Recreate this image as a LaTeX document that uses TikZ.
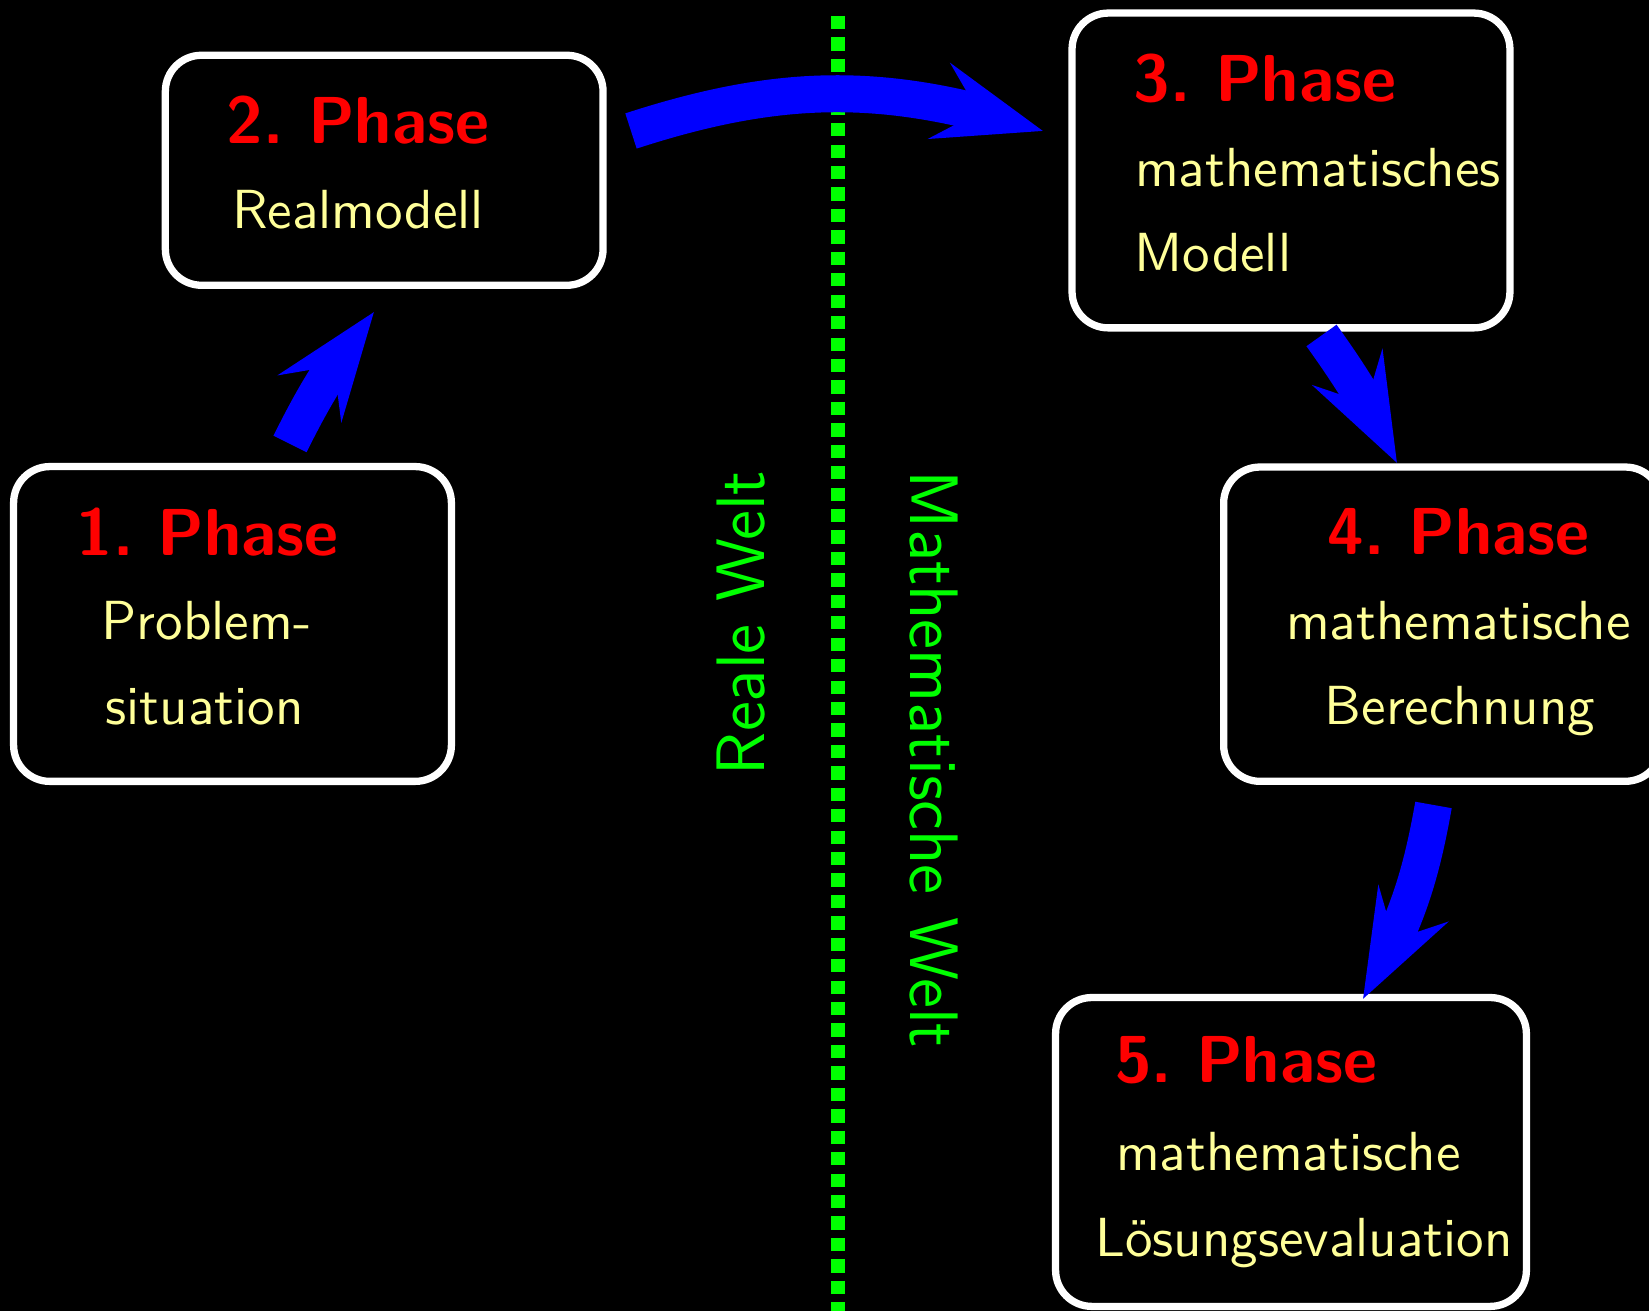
\documentclass[tikz,border=0pt]{standalone}
\usetikzlibrary{arrows.meta,bending}
\definecolor{yel}{RGB}{255,255,153}
\begin{document}
\begin{tikzpicture}[x=0.1852pt,y=0.1852pt,
  box/.style={draw=white, line width=1.35pt, rounded corners=6.7pt, fill=black, inner sep=0pt},
  ttl/.style={text=red, font=\fontsize{12.3}{14}\selectfont\sffamily\bfseries, inner sep=0pt, anchor=base},
  txt/.style={text=yel, font=\fontsize{10.2}{12}\selectfont\sffamily, inner sep=0pt, anchor=base},
  wld/.style={text=green, font=\fontsize{12.7}{14}\selectfont\sffamily, inner sep=0pt, anchor=base},
  flow/.style={draw=blue, line width=6.85pt, -{Stealth[length=19.8pt,width=14.4pt,inset=7.4pt]}}
]
\fill[black] (0,0) rectangle (1649,-1311);
\useasboundingbox (0,0) rectangle (1649,-1311);
\clip (0,0) rectangle (1649,-1311);

% separator
\coordinate (sepTop) at (838,-16);
\coordinate (sepBot) at (838,-1340);
\draw[green, line width=2.46pt, dash pattern=on 2.46pt off 1.51pt] (sepTop) -- (sepBot);

\node[wld, rotate=90] (rw) at (764,-623) {Reale Welt};
\node[wld, rotate=-90] (mw) at (910,-759.5) {Mathematische Welt};

% boxes
\node[box, minimum width=81.08pt, minimum height=58.30pt] (box1) at (232.5,-624) {};
\node[box, minimum width=81.06pt, minimum height=42.60pt] (box2) at (384.2,-170.3) {};
\node[box, minimum width=81.10pt, minimum height=58.30pt] (box3) at (1291,-170.5) {};
\node[box, minimum width=81.10pt, minimum height=58.20pt] (box4) at (1442.6,-624.2) {};
\node[box, minimum width=87.20pt, minimum height=57.20pt] (box5) at (1291,-1152) {};

% texts
\node[ttl] (t1) at (207.5,-556) {1.\ Phase};
\node[txt] (t1a) at (206.5,-640) {Problem-};
\node[txt] (t1b) at (204.5,-725) {situation};

\node[ttl] (t2) at (358,-144) {2.\ Phase};
\node[txt] (t2a) at (358,-229) {Realmodell};

\node[ttl] (t3) at (1265,-101.7) {3.\ Phase};
\node[txt] (t3a) at (1318,-186.7) {mathematisches};
\node[txt] (t3b) at (1213,-271.7) {Modell};

\node[ttl] (t4) at (1458.5,-555) {4.\ Phase};
\node[txt] (t4a) at (1458.5,-640) {mathematische};
\node[txt] (t4b) at (1460,-725) {Berechnung};

\node[ttl] (t5) at (1246,-1083) {5.\ Phase};
\node[txt] (t5a) at (1288.5,-1171) {mathematische};
\node[txt] (t5b) at (1304,-1257) {Lösungsevaluation};

% arrows
\coordinate (s12) at (290,-444);
\coordinate (e12) at (374,-312);
\coordinate (s23) at (631,-131);
\coordinate (e23) at (1043,-131);
\coordinate (s34) at (1321.5,-335.5);
\coordinate (e34) at (1397,-463);
\coordinate (s45) at (1433.5,-805);
\coordinate (e45) at (1363,-999);
\draw[flow] (s12) to[bend left=6] (e12);
\draw[flow] (s23) to[bend left=18] (e23);
\draw[flow] (s34) to[bend left=5] (e34);
\draw[flow] (s45) to[bend left=10] (e45);
\end{tikzpicture}
\end{document}
